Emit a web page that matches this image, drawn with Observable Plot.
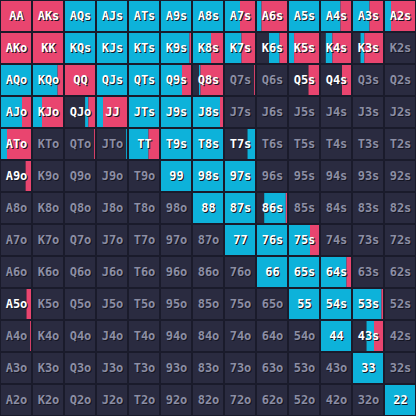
<!DOCTYPE html>
<html>
<head>
<meta charset="utf-8">
<script src="https://cdn.jsdelivr.net/npm/d3@7"></script>
<script src="https://cdn.jsdelivr.net/npm/@observablehq/plot@0.6"></script>
<style>
  html, body { margin: 0; padding: 0; background: #1a1b2b; }
  #chart svg { display: block; background: #1a1b2b; }
</style>
</head>
<body>
<div id="chart"></div>
<script>
const ranks = ["A","K","Q","J","T","9","8","7","6","5","4","3","2"];

// Raise frequency per cell (row = first rank, col = second rank)
const raiseFreq = [
  [1,1,0,0,0,0,0,0.5,0.85,0,0.35,0.45,0.8],
  [1,1,0,0,0,0.05,0.4,0.45,0.25,0.83,0.62,0.62,0],
  [0,0.18,1,0,0,0.3,0.75,0.03,0,0.35,0.3,0,0],
  [0.3,0.7,0.22,0.8,0,0,0.1,0,0,0,0,0,0],
  [0.8,0,0.03,0,0.35,0,0,0,0,0,0,0,0],
  [0.18,0,0,0,0,0,0,0,0,0,0,0,0],
  [0,0,0,0,0,0,0,0,0.04,0,0,0,0],
  [0,0,0,0,0,0,0,0,0,0.3,0,0,0],
  [0,0,0,0,0,0,0,0,0,0,0.15,0,0],
  [0.15,0,0,0,0,0,0,0,0,0,0,0.05,0],
  [0.03,0,0,0,0,0,0,0,0,0,0,0.3,0],
  [0,0,0,0,0,0,0,0,0,0,0,0,0],
  [0,0,0,0,0,0,0,0,0,0,0,0,0]
];

// Call frequency per cell
const callFreq = [
  [0,0,1,1,1,1,1,0.5,0.15,1,0.65,0.55,0.2],
  [0,0,1,1,1,0.95,0.6,0.55,0.35,0.17,0.22,0.13,0],
  [1,0.82,0,1,1,0.7,0.05,0,0,0,0,0,0],
  [0.7,0.3,0.11,0.2,1,1,0.9,0,0,0,0,0,0],
  [0.2,0,0,0.03,0.65,1,1,0.25,0,0,0,0,0],
  [0,0,0,0,0,1,1,1,0,0,0,0,0],
  [0,0,0,0,0,0,1,1,0.72,0,0,0,0],
  [0,0,0,0,0,0,0,1,1,0.7,0,0,0],
  [0,0,0,0,0,0,0,0,1,1,0.85,0,0],
  [0,0,0,0,0,0,0,0,0,1,1,0.95,0],
  [0,0,0,0,0,0,0,0,0,0,1,0.25,0],
  [0,0,0,0,0,0,0,0,0,0,0,1,0],
  [0,0,0,0,0,0,0,0,0,0,0,0,1]
];

const actions = ["fold","call","raise"];
const actionColors = ["#2a2b40","#0db2da","#e9456f"];

function handLabel(r, c) {
  if (r === c) return ranks[r] + ranks[c];
  if (c > r) return ranks[r] + ranks[c] + "s";
  return ranks[c] + ranks[r] + "o";
}

const cells = [];
const segments = [];
for (let r = 0; r < 13; r++) {
  for (let c = 0; c < 13; c++) {
    const raise = raiseFreq[r][c];
    const call = callFreq[r][c];
    const fold = Math.max(0, 1 - raise - call);
    cells.push({row: r, col: c, label: handLabel(r, c), played: fold < 0.9});
    let s = 0;
    [["fold", fold], ["call", call], ["raise", raise]].forEach(([a, v]) => {
      if (v > 0) segments.push({row: r, col: c, action: a, s0: s, s1: s + v});
      s += v;
    });
  }
}

const pad = 1 / 32;
const span = 1 - 2 * pad;

const chart = Plot.plot({
  width: 416,
  height: 416,
  margin: 0,
  x: {domain: [0, 13], range: [0, 416], axis: null},
  y: {domain: [0, 13], range: [0, 416], axis: null},
  color: {domain: actions, range: actionColors},
  marks: [
    Plot.rect(segments, {
      x1: d => d.col + pad + d.s0 * span,
      x2: d => d.col + pad + d.s1 * span,
      y1: d => d.row + pad,
      y2: d => d.row + 1 - pad,
      fill: "action"
    }),
    Plot.text(cells, {
      x: d => d.col + 0.5,
      y: d => d.row + 0.5,
      text: "label",
      dx: 1, dy: 1,
      fill: "#141522",
      fontFamily: "DejaVu Sans Mono",
      fontWeight: "bold",
      fontSize: 12
    }),
    Plot.text(cells, {
      x: d => d.col + 0.5,
      y: d => d.row + 0.5,
      text: "label",
      fill: d => d.played ? "#ffffff" : "#8c8ea4",
      fontFamily: "DejaVu Sans Mono",
      fontWeight: "bold",
      fontSize: 12
    })
  ]
});
document.getElementById("chart").appendChild(chart);
</script>
</body>
</html>
